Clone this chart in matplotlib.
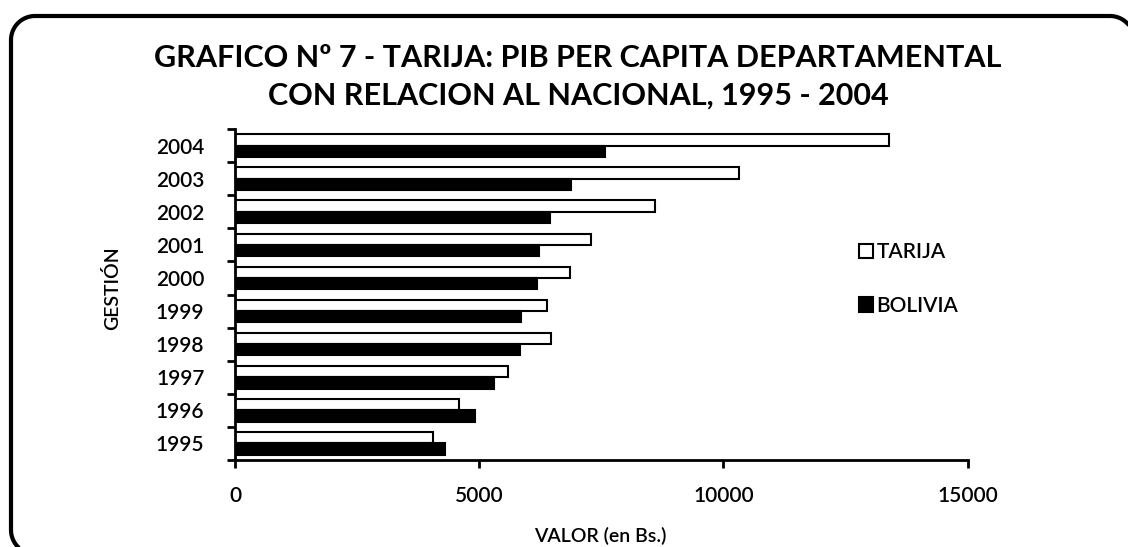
import numpy as np
import matplotlib.pyplot as plt
from matplotlib.patches import Patch

plt.rcParams['font.family'] = ['Lato', 'DejaVu Sans']

years = ['1995', '1996', '1997', '1998', '1999', '2000', '2001', '2002', '2003', '2004']
tarija = [4045, 4580, 5600, 6465, 6380, 6860, 7300, 8600, 10330, 13385]
bolivia = [4305, 4910, 5295, 5830, 5860, 6190, 6225, 6450, 6890, 7570]

fig = plt.figure(figsize=(11.28, 5.47), dpi=100)
fig.patch.set_facecolor('white')

# rounded frame in pixel units on a background axes; right and bottom run off the picture
bg = fig.add_axes([0, 0, 1, 1])
bg.set_xlim(0, 1128)
bg.set_ylim(547, 0)
bg.axis('off')
r = 24
t1 = np.radians(np.linspace(180, 120, 20))   # bottom-left corner
t2 = np.radians(np.linspace(180, 270, 30))   # top-left corner
t3 = np.radians(np.linspace(270, 330, 20))   # top-right corner
fx = np.concatenate([35 + r * np.cos(t1[::-1]), 35 + r * np.cos(t2), 1110 + r * np.cos(t3)])
fy = np.concatenate([530 + r * np.sin(t1[::-1]), 40 + r * np.sin(t2), 40 + r * np.sin(t3)])
bg.plot(fx, fy, color='black', lw=3, solid_capstyle='butt', clip_on=True)

ax = fig.add_axes([235 / 1128, 1 - 460 / 547, (967.5 - 235) / 1128, (460 - 129) / 547])

y = np.arange(len(years))
h = 0.34
ax.barh(y + h / 2, tarija, height=h, color='white', edgecolor='black', lw=1.5, label='TARIJA')
ax.barh(y - h / 2, bolivia, height=h, color='black', edgecolor='black', lw=1.5, label='BOLIVIA')

ax.set_xlim(0, 15000)
ax.set_ylim(-0.5, len(years) - 0.5)
ax.set_xticks([0, 5000, 10000, 15000])
ax.set_xticklabels(['0', '5000', '10000', '15000'], fontweight='semibold')
ax.set_yticks(y)
ax.set_yticklabels(years, fontweight='semibold')
ax.set_yticks(np.arange(-0.5, len(years), 1), minor=True)
ax.tick_params(axis='y', which='major', length=0, pad=22, labelsize=15)
ax.tick_params(axis='y', which='minor', length=6, width=2, direction='out')
ax.tick_params(axis='x', length=6, width=2, direction='out', pad=13, labelsize=15)

for s in ['top', 'right']:
    ax.spines[s].set_visible(False)
for s in ['left', 'bottom']:
    ax.spines[s].set_linewidth(2)

fig.text(600 / 1128, 1 - 536 / 547, 'VALOR (en Bs.)', ha='center', va='center',
         fontsize=14, fontweight='semibold')
fig.text(112 / 1128, 1 - 288 / 547, 'GESTIÓN', rotation=90, ha='center', va='center',
         fontsize=14, fontweight='semibold')

fig.text(578 / 1128, 1 - 58 / 547, 'GRAFICO Nº 7 - TARIJA: PIB PER CAPITA DEPARTAMENTAL',
         ha='center', va='center', fontsize=22, fontweight='bold')
fig.text(578 / 1128, 1 - 96 / 547, 'CON RELACION AL NACIONAL, 1995 - 2004',
         ha='center', va='center', fontsize=22, fontweight='bold')

handles = [Patch(facecolor='white', edgecolor='black', lw=1.5, label='TARIJA'),
           Patch(facecolor='black', edgecolor='black', lw=1.5, label='BOLIVIA')]
fig.legend(handles=handles, loc='center left', bbox_to_anchor=(840 / 1128, 1 - 279 / 547),
           frameon=False, prop={'size': 15, 'weight': 'semibold'}, handlelength=0.7,
           handleheight=0.7, handletextpad=0.15, labelspacing=1.6)

fig.savefig('out.png', dpi=100)
